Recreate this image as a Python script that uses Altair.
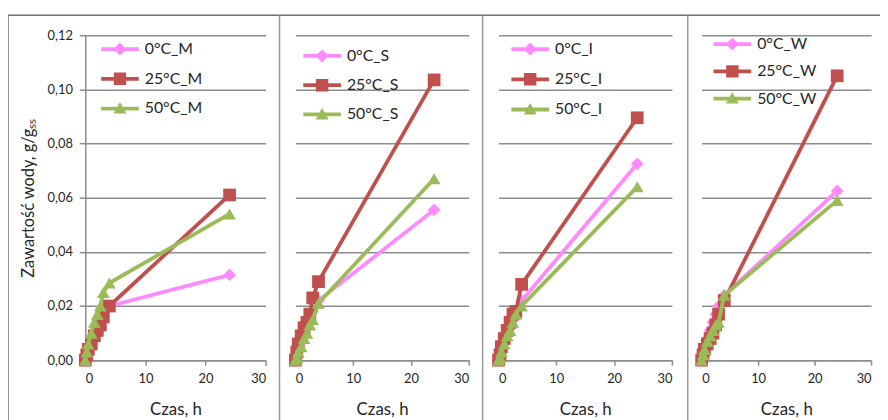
import altair as alt
import pandas as pd

# ---- data ----
times = [0, 0.25, 0.5, 1, 1.5, 2, 2.5, 3, 4, 24]
panel_codes = ["M", "S", "I", "W"]
temperatures = ["0°C", "25°C", "50°C"]
colors = ["#FF8AFF", "#C0504D", "#9BBB59"]
shapes = ["diamond", "square", "triangle-up"]

m_0 = [0, 0.002, 0.004, 0.007, 0.010, 0.012, 0.014, 0.016, 0.020, 0.0315]
m_25 = [0, 0.002, 0.004, 0.006, 0.009, 0.011, 0.013, 0.016, 0.020, 0.061]
m_50 = [0, 0.003, 0.006, 0.010, 0.014, 0.017, 0.020, 0.025, 0.0285, 0.054]
s_0 = [0, 0.002, 0.004, 0.007, 0.010, 0.013, 0.015, 0.018, 0.022, 0.0555]
s_25 = [0, 0.003, 0.006, 0.009, 0.012, 0.014, 0.017, 0.023, 0.029, 0.1035]
s_50 = [0, 0.001, 0.003, 0.005, 0.008, 0.010, 0.013, 0.015, 0.021, 0.067]
i_0 = [0, 0.002, 0.004, 0.007, 0.010, 0.012, 0.015, 0.018, 0.022, 0.0725]
i_25 = [0, 0.002, 0.005, 0.008, 0.011, 0.014, 0.017, 0.018, 0.028, 0.0895]
i_50 = [0, 0.001, 0.003, 0.006, 0.009, 0.011, 0.014, 0.017, 0.020, 0.064]
w_0 = [0, 0.003, 0.005, 0.008, 0.011, 0.014, 0.017, 0.020, 0.024, 0.0625]
w_25 = [0, 0.002, 0.004, 0.006, 0.008, 0.010, 0.013, 0.017, 0.022, 0.105]
w_50 = [0, 0.002, 0.004, 0.007, 0.009, 0.011, 0.013, 0.014, 0.024, 0.059]

series_values = {
    "M": [m_0, m_25, m_50],
    "S": [s_0, s_25, s_50],
    "I": [i_0, i_25, i_50],
    "W": [w_0, w_25, w_50],
}

y_ticks = [0, 0.02, 0.04, 0.06, 0.08, 0.10, 0.12]
x_ticks = [0, 10, 20, 30]
y_title = "Zawartość wody, g/gₛₛ"
x_title = "Czas, h"

# ---- layout ----
FONT = "Lato"
TEXT = "#262626"
GRID = "#8C8C8C"
H = 328
widths = [182, 175, 175, 171]
sep_x = [-78, -16, -16, -14]
legend_x = [27, 19, 24, 23]
legend_y0 = [6, 13, 6, 1]
legend_pitch = [30, 29.5, 30.5, 27.5]

# legend symbols: line segment + marker (custom paths in unit coords)
sym_paths = [
    "M-3.8,-0.38H-0.92L0,-1.3L0.92,-0.38H3.8V0.38H0.92L0,1.3L-0.92,0.38H-3.8Z",
    "M-3.8,-0.38H-1.25V-1.25H1.25V-0.38H3.8V0.38H1.25V1.25H-1.25V0.38H-3.8Z",
    "M-3.8,-0.38H-0.52L0,-1.3L0.52,-0.38H3.8V0.38H0.95L1.3,1.0H-1.3L-0.95,0.38H-3.8Z",
]


def make_panel(idx):
    code = panel_codes[idx]
    names = [f"{t}_{code}" for t in temperatures]
    rows = []
    for name, vals in zip(names, series_values[code]):
        for t, v in zip(times, vals):
            rows.append({"series": name, "t": t, "v": v})
    df = pd.DataFrame(rows)

    x = alt.X("t:Q", scale=alt.Scale(domain=[0, 30], nice=False),
              axis=alt.Axis(values=x_ticks, grid=False, title=x_title,
                            domainColor=GRID, domainWidth=1.5, tickColor=GRID,
                            tickWidth=1.5, tickSize=5, labelFontSize=13,
                            labelPadding=8, titleFontSize=17, titlePadding=16,
                            titleFontWeight="normal"))
    if idx == 0:
        yaxis = alt.Axis(values=y_ticks, title=y_title, grid=True,
                         labelExpr="replace(format(datum.value, '.2f'), '.', ',')",
                         domainColor=GRID, domainWidth=1.5, tickColor=GRID,
                         tickWidth=1.5, tickSize=6, labelFontSize=13,
                         labelPadding=7, titleFontSize=16.5, titlePadding=11,
                         titleFontWeight="normal")
    else:
        yaxis = alt.Axis(values=y_ticks, title=None, grid=True, labels=False,
                         ticks=False, domain=False)
    y = alt.Y("v:Q", scale=alt.Scale(domain=[0, 0.12], nice=False), axis=yaxis)

    base = alt.Chart(df)
    layers = []
    for k, name in enumerate(names):
        sub = base.transform_filter(alt.datum.series == name)
        legend = alt.Legend(
            title=None, orient="none", legendX=legend_x[idx],
            legendY=legend_y0[idx] + k * legend_pitch[idx], padding=0,
            symbolSize=100, symbolType=sym_paths[k], symbolStrokeWidth=0,
            symbolOpacity=1, labelOffset=17, labelFont=FONT, labelFontSize=16,
            labelColor=TEXT,
        )
        color = alt.Color("series:N", scale=alt.Scale(domain=[name], range=[colors[k]]),
                          legend=legend)
        layers.append(sub.mark_line(strokeWidth=3.8, color=colors[k]).encode(x=x, y=y))
        layers.append(sub.mark_point(filled=True, opacity=1, size=165, strokeWidth=0,
                                     shape=shapes[k])
                      .encode(x=x, y=y, color=color))

    one = alt.Data(values=[{"k": 1}])
    if idx == 0:
        deco = [
            alt.Chart(one).mark_rule(color="#6F6F6F", strokeWidth=1.5).encode(
                x=alt.value(sep_x[idx]), y=alt.value(-20), y2=alt.value(400)),
            alt.Chart(one).mark_rule(color="#6F6F6F", strokeWidth=1.5).encode(
                x=alt.value(-78), x2=alt.value(802), y=alt.value(-20)),
        ]
    else:
        deco = [alt.Chart(one).mark_rule(color="#9A9A9A", strokeWidth=1.5).encode(
            x=alt.value(sep_x[idx]), y=alt.value(-20), y2=alt.value(400))]

    return (alt.layer(*deco, *layers)
            .resolve_scale(color="independent")
            .resolve_legend(color="independent")
            .properties(width=widths[idx], height=H))


panels = [make_panel(i) for i in range(4)]

chart = (
    alt.hconcat(*panels, spacing=30, bounds="flush")
    .resolve_scale(color="independent")
    .resolve_legend(color="independent")
    .properties(padding={"left": 78, "top": 24, "right": 802, "bottom": 396},
                autosize=alt.AutoSizeParams(type="none"))
    .configure(font=FONT)
    .configure_view(strokeWidth=0)
    .configure_axis(labelColor=TEXT, titleColor=TEXT, labelFont=FONT,
                    titleFont=FONT, gridColor=GRID, gridWidth=1.5)
)

chart.save("out.html", embed_options={"renderer": "svg", "actions": False})
